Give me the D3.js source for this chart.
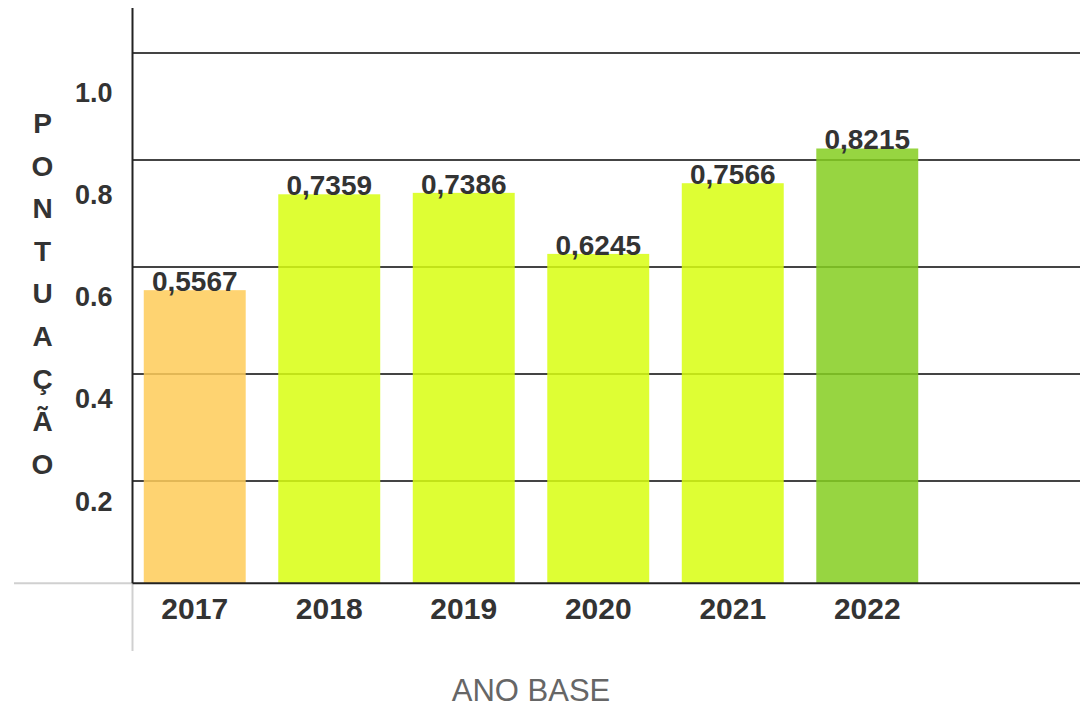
<!DOCTYPE html>
<html>
<head>
<meta charset="utf-8">
<script src="https://cdn.jsdelivr.net/npm/d3@7"></script>
<style>
  html, body { margin: 0; padding: 0; background: #fff; }
  svg { display: block; font-family: "Liberation Sans", Arial, sans-serif; }
</style>
</head>
<body>
<svg id="chart" width="1080" height="708"></svg>
<script>
const categories = ["2017", "2018", "2019", "2020", "2021", "2022"];
const values = [0.5567, 0.7359, 0.7386, 0.6245, 0.7566, 0.8215];
const barColors = ["#FECB58", "#D8FE10", "#D8FE10", "#D8FE10", "#D8FE10", "#85CE20"];
const tickValues = [0.2, 0.4, 0.6, 0.8, 1.0];
const tickLabels = ["0.2", "0.4", "0.6", "0.8", "1.0"];
const yTitle = "PONTUAÇÃO";
const xTitle = "ANO BASE";

const svg = d3.select("#chart");
const W = 1080, H = 708;
const axisX = 132.5, baseY = 583.3;
const textColor = "#333";

const x = d3.scaleBand().domain(categories).range([133, 929])
  .paddingInner(0.242).paddingOuter(0.08);
const y = d3.scaleLinear().domain([0, 1.08]).range([588, 588 - 1.08 * 535]);
// tick labels in the reference sit on their own, slightly compressed, spacing
const yLab = d3.scaleLinear().domain([0, 1]).range([603.3, 92]);

// gridlines
svg.append("g").selectAll("line").data(tickValues)
  .join("line")
  .attr("x1", axisX).attr("x2", W)
  .attr("y1", d => y(d)).attr("y2", d => y(d))
  .attr("stroke", "#444").attr("stroke-width", 2);

// bars (slightly translucent so gridlines show through)
svg.append("g").selectAll("rect").data(values)
  .join("rect")
  .attr("x", (d, i) => x(categories[i]))
  .attr("width", x.bandwidth())
  .attr("y", d => y(d))
  .attr("height", d => baseY - y(d))
  .attr("fill", (d, i) => barColors[i])
  .attr("fill-opacity", 0.85);

// value labels
const fmt = d3.formatLocale({decimal: ",", thousands: ".", grouping: [3], currency: ["", ""]}).format(".4f");
svg.append("g").selectAll("text").data(values)
  .join("text")
  .attr("x", (d, i) => x(categories[i]) + x.bandwidth() / 2)
  .attr("y", d => y(d) + 1)
  .attr("text-anchor", "middle")
  .attr("font-size", 28).attr("font-weight", "bold")
  .attr("fill", textColor)
  .text(d => fmt(d));

// light axis extensions
svg.append("line").attr("x1", 14).attr("x2", axisX).attr("y1", baseY).attr("y2", baseY)
  .attr("stroke", "#d0d0d0").attr("stroke-width", 2);
svg.append("line").attr("x1", axisX).attr("x2", axisX).attr("y1", baseY).attr("y2", 651)
  .attr("stroke", "#d0d0d0").attr("stroke-width", 2);

// x axis baseline
svg.append("line").attr("x1", axisX).attr("x2", W).attr("y1", baseY).attr("y2", baseY)
  .attr("stroke", "#222").attr("stroke-width", 2);
// y axis line
svg.append("line").attr("x1", axisX).attr("x2", axisX).attr("y1", 8).attr("y2", baseY)
  .attr("stroke", "#222").attr("stroke-width", 2);

// x category labels
svg.append("g").selectAll("text").data(categories)
  .join("text")
  .attr("x", d => x(d) + x.bandwidth() / 2)
  .attr("y", 619)
  .attr("text-anchor", "middle")
  .attr("font-size", 30).attr("font-weight", "bold")
  .attr("fill", textColor)
  .text(d => d);

// y tick labels
svg.append("g").selectAll("text").data(tickValues)
  .join("text")
  .attr("x", 112.5)
  .attr("y", d => yLab(d) + 9.5)
  .attr("text-anchor", "end")
  .attr("font-size", 27).attr("font-weight", "bold")
  .attr("fill", textColor)
  .text((d, i) => tickLabels[i]);

// vertical y title, one letter per line
svg.append("g").selectAll("text").data(Array.from(yTitle))
  .join("text")
  .attr("x", 42.5)
  .attr("y", (d, i) => 133 + i * 42.6)
  .attr("text-anchor", "middle")
  .attr("font-size", 28).attr("font-weight", "bold")
  .attr("fill", textColor)
  .text(d => d);

// x title
svg.append("text")
  .attr("x", 531).attr("y", 701)
  .attr("text-anchor", "middle")
  .attr("font-size", 31)
  .attr("fill", "#666")
  .text(xTitle);
</script>
</body>
</html>
